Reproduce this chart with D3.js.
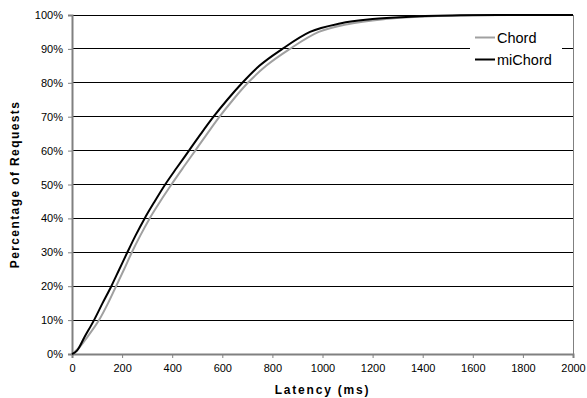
<!DOCTYPE html>
<html>
<head>
<meta charset="utf-8">
<style>
    body { margin: 0; background: white; }
    svg { font-family: 'Liberation Sans', Arial, sans-serif; }
</style>
</head>
<body>
<svg width="587" height="398"></svg>
<script src="https://d3js.org/d3.v7.min.js"></script>
<script>
    // latency (ms), percentage of requests
    let chordLatency   = [0, 30, 61, 108, 144, 176, 208, 239, 273, 310, 352, 397, 444, 492, 540, 589, 643, 702, 775, 870, 985, 1100, 1250, 1400, 1600, 1750, 2000]
    let chordPct       = [0, 2, 5, 10, 15, 20, 25, 30, 35, 40, 45, 50, 55, 60, 65, 70, 75, 80, 85, 90, 95, 97.3, 98.8, 99.5, 99.9, 100, 100]
    let miChordLatency = [0, 20, 50, 88, 122, 157, 189, 221, 254, 290, 330, 372, 419, 467, 515, 565, 620, 680, 748, 840, 950, 1070, 1200, 1350, 1550, 1700, 2000]
    let miChordPct     = [0, 1, 5, 10, 15, 20, 25, 30, 35, 40, 45, 50, 55, 60, 65, 70, 75, 80, 85, 90, 95, 97.5, 98.8, 99.5, 99.9, 100, 100]

    let xTicks = [0, 200, 400, 600, 800, 1000, 1200, 1400, 1600, 1800, 2000]
    let yTicks = [0, 10, 20, 30, 40, 50, 60, 70, 80, 90, 100]

    let seriesNames = ["Chord", "miChord"]
    let seriesColors = ["#a0a0a0", "#000000"]

    let margin = {top: 15, right: 14, bottom: 44, left: 72}
    let width = 587, height = 398

    let svg = d3.select("svg")

    let x = d3.scaleLinear().domain([0, 2000]).range([margin.left, width - margin.right])
    let y = d3.scaleLinear().domain([0, 100]).range([height - margin.bottom, margin.top])

    // gridlines
    svg.append("g")
        .selectAll("line")
        .data(yTicks.slice(1))
        .join("line")
        .attr("x1", x(0))
        .attr("x2", x(2000))
        .attr("y1", d => y(d))
        .attr("y2", d => y(d))
        .attr("stroke", "#000")
        .attr("stroke-width", 1)
        .attr("shape-rendering", "crispEdges")

    // right border
    svg.append("line")
        .attr("x1", x(2000)).attr("x2", x(2000))
        .attr("y1", y(0)).attr("y2", y(100))
        .attr("stroke", "#808080")
        .attr("shape-rendering", "crispEdges")

    // axes
    let xAxis = svg.append("g")
        .attr("transform", `translate(0,${y(0)})`)
        .call(d3.axisBottom(x).tickValues(xTicks).tickSize(4).tickPadding(6).tickFormat(d3.format("d")))
    let yAxis = svg.append("g")
        .attr("transform", `translate(${x(0)},0)`)
        .call(d3.axisLeft(y).tickValues(yTicks).tickSize(4).tickPadding(5).tickFormat(d => d + "%"))

    for (let ax of [xAxis, yAxis]) {
        ax.select(".domain").attr("stroke", "#808080").attr("stroke-width", 2)
        ax.selectAll(".tick line").attr("stroke", "#808080")
        ax.selectAll("text").attr("font-size", 11).attr("fill", "#000")
            .attr("font-family", "'Liberation Sans', Arial, sans-serif")
    }

    // lines
    let line = d3.line().x(d => x(d[0])).y(d => y(d[1])).curve(d3.curveMonotoneX)
    let chordData = chordLatency.map((v, i) => [v, chordPct[i]])
    let miChordData = miChordLatency.map((v, i) => [v, miChordPct[i]])

    svg.append("path")
        .datum(chordData)
        .attr("d", line)
        .attr("fill", "none")
        .attr("stroke", seriesColors[0])
        .attr("stroke-width", 2)

    svg.append("path")
        .datum(miChordData)
        .attr("d", line)
        .attr("fill", "none")
        .attr("stroke", seriesColors[1])
        .attr("stroke-width", 2)

    // legend
    let legend = svg.append("g").attr("transform", "translate(470,27)")
    legend.append("rect")
        .attr("width", 92).attr("height", 44)
        .attr("fill", "white")
    seriesNames.forEach((name, i) => {
        let g = legend.append("g").attr("transform", `translate(5,${10.5 + i * 22})`)
        g.append("line")
            .attr("x1", 0).attr("x2", 20)
            .attr("stroke", seriesColors[i]).attr("stroke-width", 2)
        g.append("text")
            .attr("x", 22).attr("y", 0).attr("dy", "0.35em")
            .attr("font-size", 14.5)
            .text(name)
    })

    // axis titles
    svg.append("text")
        .attr("x", (x(0) + x(2000)) / 2)
        .attr("y", 394)
        .attr("text-anchor", "middle")
        .attr("font-size", 12)
        .attr("font-weight", "bold")
        .attr("letter-spacing", 1.8)
        .text("Latency (ms)")

    svg.append("text")
        .attr("transform", `translate(19,${(y(0) + y(100)) / 2}) rotate(-90)`)
        .attr("text-anchor", "middle")
        .attr("font-size", 12)
        .attr("font-weight", "bold")
        .attr("letter-spacing", 1.4)
        .text("Percentage of Requests")
</script>
</body>
</html>
